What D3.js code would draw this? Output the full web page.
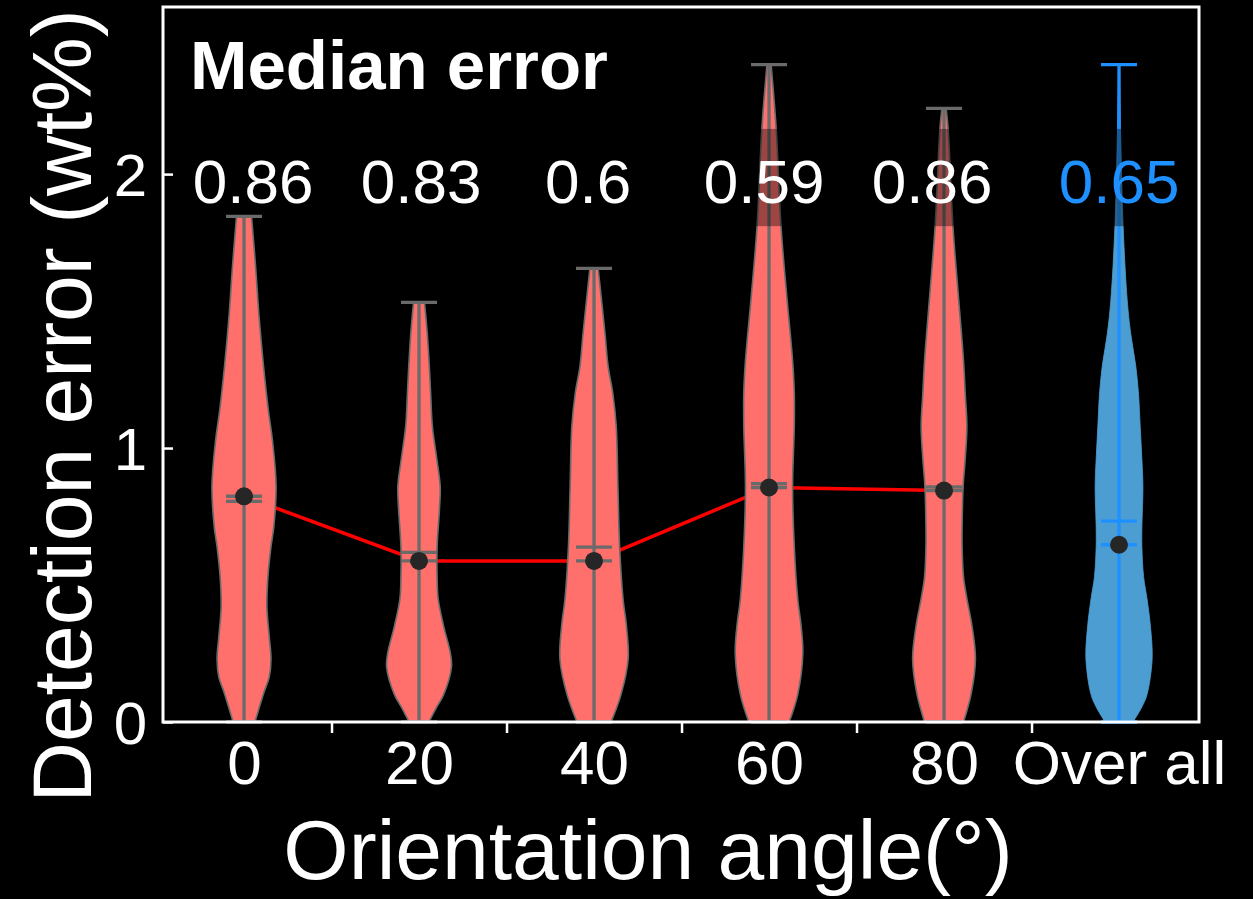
<!DOCTYPE html>
<html>
<head>
<meta charset="utf-8">
<script src="https://cdn.jsdelivr.net/npm/d3@7"></script>
<style>
  html, body { margin: 0; padding: 0; background: #000; }
  svg { display: block; }
  text { font-family: "Liberation Sans", Arial, Helvetica, sans-serif; }
</style>
</head>
<body>
<svg id="chart" width="1253" height="899"></svg>
<script>
// ---------------- data ----------------
const categories = ["0", "20", "40", "60", "80", "Over all"];
const medianLabels = ["0.86", "0.83", "0.6", "0.59", "0.86", "0.65"];
const maxValues = [1.846, 1.532, 1.656, 2.40, 2.24, 2.40];
const minValues = [0, 0, 0, 0, 0, 0];
const medianValues = [0.824, 0.588, 0.588, 0.856, 0.845, 0.647];
const meanValues = [0.805, 0.619, 0.638, 0.870, 0.858, 0.733];
// relative kernel density profiles: [value, density]
const density0 = [[1.846,.22],[1.66,.34],[1.48,.44],[1.30,.57],[1.14,.71],[1.02,.84],[0.86,.94],[0.71,.87],[0.64,.79],[0.53,.70],[0.42,.67],[0.31,.74],[0.23,.79],[0.165,.74],[0.107,.58],[0,.32]];
const density20 = [[1.532,.16],[1.42,.24],[1.30,.30],[1.20,.34],[1.08,.39],[0.96,.52],[0.86,.62],[0.78,.60],[0.64,.53],[0.53,.53],[0.45,.56],[0.35,.72],[0.25,.92],[0.20,.95],[0.10,.72],[0.055,.52],[0,.29]];
const density40 = [[1.656,.12],[1.42,.32],[1.30,.41],[1.20,.55],[1.08,.65],[0.86,.70],[0.64,.75],[0.45,.85],[0.35,.95],[0.23,1.0],[0.10,.79],[0,.50]];
const density60 = [[2.40,.06],[2.165,.21],[1.81,.35],[1.54,.53],[1.32,.69],[1.20,.74],[1.08,.74],[0.86,.69],[0.64,.74],[0.45,.84],[0.35,.94],[0.25,.99],[0.10,.84],[0,.59]];
const density80 = [[2.24,.06],[2.165,.12],[1.81,.26],[1.54,.43],[1.32,.57],[1.20,.62],[1.08,.67],[0.96,.62],[0.86,.56],[0.71,.53],[0.64,.53],[0.53,.57],[0.45,.67],[0.35,.82],[0.23,.92],[0.10,.79],[0,.57]];
const densityAll = [[2.40,.015],[2.165,.045],[1.81,.12],[1.54,.24],[1.42,.34],[1.30,.49],[1.20,.57],[1.08,.62],[0.96,.67],[0.86,.70],[0.71,.67],[0.64,.67],[0.53,.72],[0.45,.82],[0.35,.92],[0.23,.97],[0.10,.82],[0.055,.67],[0,.41]];
const densities = [density0, density20, density40, density60, density80, densityAll];
const yTicks = [0, 1, 2];

// ---------------- layout ----------------
const W = 1253, H = 899;
const plot = { left: 163, right: 1199, top: 7, bottom: 722 };
const labelOffsets = [9, 2, -6, -5, -12, 0]; // px nudges of the median text labels
const svg = d3.select("#chart");
svg.append("rect").attr("width", W).attr("height", H).attr("fill", "#000");

const x = d3.scaleLinear().domain([-0.463, 5.457]).range([plot.left, plot.right]);
const y = d3.scaleLinear().domain([0, 2.61]).range([plot.bottom, plot.top]);
const halfWidth = 0.195;   // violin half width at density 1 (position units)
const capHalf = 0.103;     // half length of caps / mean / median lines

const red = "#ff6f6b", blue = "#4c9ed2", gray = "#6a6a6a", lineBlue = "#1e90ff";
const isAll = i => i === categories.length - 1;

// red median connecting line (behind violins)
const lineData = medianValues.slice(0, 5).map((v, i) => [i, v]);
svg.append("path")
  .datum(lineData)
  .attr("fill", "none").attr("stroke", "#ff0000").attr("stroke-width", 3.5)
  .attr("d", d3.line().x(d => x(d[0])).y(d => y(d[1])));

// violins
densities.forEach((prof, i) => {
  const pts = prof.slice().sort((a, b) => a[0] - b[0]);
  const area = d3.area()
    .y(d => y(d[0]))
    .x0(d => x(i - d[1] * halfWidth))
    .x1(d => x(i + d[1] * halfWidth))
    .curve(d3.curveCatmullRom.alpha(0.5));
  svg.append("path")
    .datum(pts)
    .attr("d", area)
    .attr("fill", isAll(i) ? blue : red)
    .attr("stroke", isAll(i) ? blue : gray)
    .attr("stroke-width", isAll(i) ? 0.8 : 1.6);
});

// center lines, caps, mean & median lines
categories.forEach((c, i) => {
  const col = isAll(i) ? lineBlue : gray;
  const g = svg.append("g").attr("stroke", col).attr("stroke-width", 3.3);
  g.append("line").attr("x1", x(i)).attr("x2", x(i)).attr("y1", y(minValues[i])).attr("y2", y(maxValues[i]));
  [maxValues[i], minValues[i], meanValues[i], medianValues[i]].forEach(v => {
    g.append("line").attr("x1", x(i - capHalf)).attr("x2", x(i + capHalf)).attr("y1", y(v)).attr("y2", y(v));
  });
});

// translucent dark band behind the upper labels
svg.append("rect")
  .attr("x", x(2.5)).attr("width", x(5.43) - x(2.5))
  .attr("y", y(2.165)).attr("height", y(1.81) - y(2.165))
  .attr("fill", "#000").attr("opacity", 0.38);

// median dots
svg.append("g").selectAll("circle")
  .data(medianValues)
  .join("circle")
  .attr("cx", (d, i) => x(i)).attr("cy", d => y(d)).attr("r", 9)
  .attr("fill", "#262626");

// frame
svg.append("rect")
  .attr("x", plot.left).attr("y", plot.top)
  .attr("width", plot.right - plot.left).attr("height", plot.bottom - plot.top)
  .attr("fill", "none").attr("stroke", "#fff").attr("stroke-width", 3);

// y axis (inward ticks)
const yAxis = svg.append("g").attr("transform", `translate(${plot.left},0)`)
  .call(d3.axisLeft(y).tickValues(yTicks).tickFormat(d3.format("d")).tickSize(-10).tickPadding(16));
yAxis.select(".domain").remove();
yAxis.selectAll(".tick line").attr("stroke", "#fff").attr("stroke-width", 2.5);
yAxis.selectAll(".tick text").attr("fill", "#fff").attr("font-size", 60)
  .attr("font-family", "Liberation Sans, Arial, sans-serif").attr("dy", "0.36em");

// x axis tick marks between categories
const xMarks = svg.append("g").attr("transform", `translate(0,${plot.bottom})`)
  .call(d3.axisBottom(x).tickValues([0.5, 1.5, 2.5, 3.5, 4.5]).tickFormat("").tickSize(11));
xMarks.select(".domain").remove();
xMarks.selectAll(".tick line").attr("stroke", "#fff").attr("stroke-width", 2.5);

// x category labels
const xLabels = svg.append("g").attr("transform", `translate(0,${plot.bottom})`)
  .call(d3.axisBottom(x).tickValues(d3.range(categories.length)).tickFormat(i => categories[i]).tickSize(0).tickPadding(18));
xLabels.select(".domain").remove();
xLabels.selectAll(".tick text").attr("fill", "#fff").attr("font-size", 62)
  .attr("font-family", "Liberation Sans, Arial, sans-serif");

// axis titles
svg.append("text")
  .attr("x", 648).attr("y", 879)
  .attr("text-anchor", "middle").attr("fill", "#fff").attr("font-size", 84)
  .text("Orientation angle(°)");
svg.append("text")
  .attr("transform", "translate(91,406) rotate(-90)")
  .attr("text-anchor", "middle").attr("fill", "#fff").attr("font-size", 84)
  .text("Detection error (wt%)");

// "Median error" title and values
svg.append("text")
  .attr("x", 190).attr("y", 89)
  .attr("fill", "#fff").attr("font-size", 69).attr("font-weight", "bold")
  .text("Median error");
svg.append("g").selectAll("text")
  .data(medianLabels)
  .join("text")
  .attr("x", (d, i) => x(i) + labelOffsets[i]).attr("y", 203)
  .attr("text-anchor", "middle").attr("font-size", 62)
  .attr("fill", (d, i) => isAll(i) ? lineBlue : "#fff")
  .text(d => d);
</script>
</body>
</html>
